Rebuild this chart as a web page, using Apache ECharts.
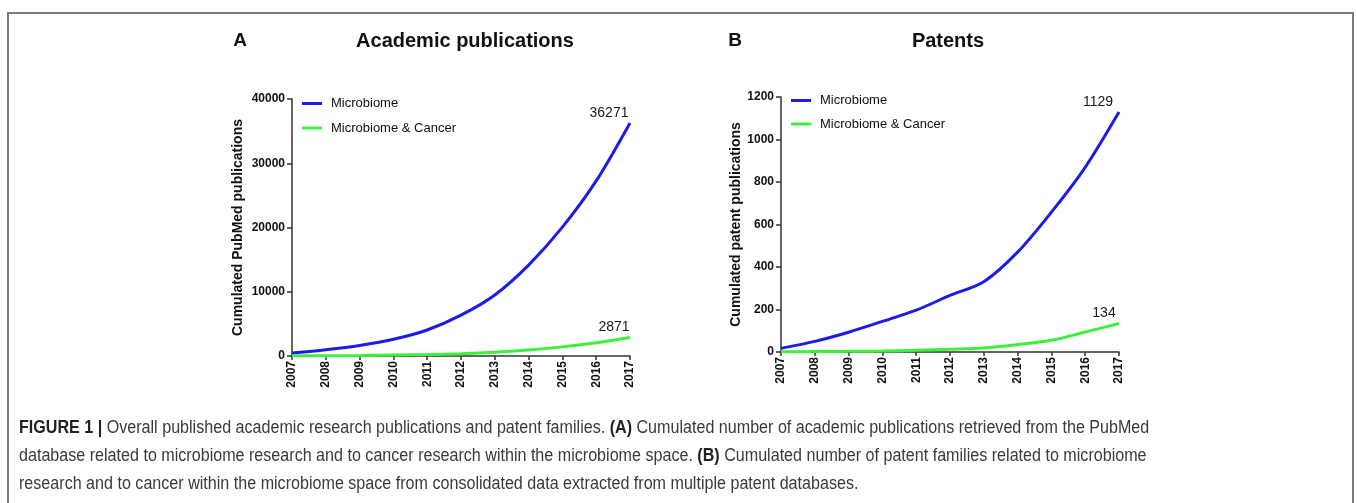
<!DOCTYPE html>
<html>
<head>
<meta charset="utf-8">
<script src="https://cdn.jsdelivr.net/npm/echarts@6/dist/echarts.min.js"></script>
<style>
  body { margin: 0; background: #fff; }
  #wrap { position: relative; width: 1357px; height: 503px; overflow: hidden; }
  #frame {
    position: absolute; left: 7px; top: 12px; width: 1347px; height: 520px;
    border: 2px solid #7a7a7a; box-sizing: border-box;
  }
  #main { position: absolute; left: 0; top: 0; width: 1357px; height: 503px; }
  #caption {
    position: absolute; left: 19px; top: 413px; width: 1450px;
    font-family: "Liberation Sans Narrow", "Arial Narrow", "Liberation Sans", sans-serif;
    font-size: 17.5px; line-height: 28px; color: #3a3a3a;
    transform: scaleX(0.92); transform-origin: left top;
  }
  #caption b { color: #222; }
</style>
</head>
<body>
<div id="wrap">
  <div id="frame"></div>
  <div id="main"></div>
  <div id="caption">
    <b>FIGURE 1 |</b> Overall published academic research publications and patent families. <b>(A)</b> Cumulated number of academic publications retrieved from the PubMed<br>
    database related to microbiome research and to cancer research within the microbiome space. <b>(B)</b> Cumulated number of patent families related to microbiome<br>
    research and to cancer within the microbiome space from consolidated data extracted from multiple patent databases.
  </div>
</div>
<script>
  // 数据
  var years = ['2007', '2008', '2009', '2010', '2011', '2012', '2013', '2014', '2015', '2016', '2017'];
  var pubMicrobiome = [450, 980, 1650, 2600, 4050, 6350, 9500, 14150, 20050, 27250, 36271];
  var pubCancer = [20, 40, 80, 140, 220, 360, 600, 930, 1420, 2050, 2871];
  var patMicrobiome = [17, 50, 93, 144, 197, 266, 331, 470, 658, 869, 1129];
  var patCancer = [1, 2, 3, 5, 8, 13, 19, 35, 55, 94, 134];
  var pubTicks = [0, 10000, 20000, 30000, 40000];
  var patTicks = [0, 200, 400, 600, 800, 1000, 1200];

  var blue = '#1c1ce6';
  var green = '#3ef03e';
  var font = '"Liberation Sans", Arial, sans-serif';

  var chart = echarts.init(document.getElementById('main'));

  function xAxisFor(gi) {
    return {
      type: 'category', gridIndex: gi, data: years, boundaryGap: false,
      axisLine: { lineStyle: { color: '#333', width: 1.5 } },
      axisTick: { show: true, alignWithLabel: true, length: 4, lineStyle: { color: '#333', width: 1.5 } },
      axisLabel: {
        rotate: 90, interval: 0, margin: 5,
        fontFamily: font, fontSize: 12, fontWeight: 'bold', color: '#111'
      }
    };
  }

  function yAxisFor(gi, ticks, name, gap) {
    return {
      type: 'value', gridIndex: gi, min: ticks[0], max: ticks[ticks.length - 1],
      interval: ticks[1] - ticks[0],
      name: name, nameLocation: 'middle', nameGap: gap,
      nameTextStyle: { fontFamily: font, fontSize: 14, fontWeight: 'bold', color: '#111' },
      axisLine: { show: true, lineStyle: { color: '#333', width: 1.5 } },
      axisTick: { show: true, length: 5, lineStyle: { color: '#333', width: 1.5 } },
      splitLine: { show: false },
      axisLabel: {
        margin: 7, fontFamily: font, fontSize: 12, fontWeight: 'bold', color: '#111',
        formatter: function (v) { return String(v); }
      }
    };
  }

  function lineSeries(name, gi, data, color, offset) {
    return {
      name: name, type: 'line', xAxisIndex: gi, yAxisIndex: gi,
      data: data, smooth: 0.3, symbol: 'none',
      lineStyle: { color: color, width: 3 }, itemStyle: { color: color },
      endLabel: {
        show: true, offset: offset, align: 'center', verticalAlign: 'bottom',
        fontFamily: font, fontSize: 14, color: '#1a1a1a',
        formatter: function (p) { return String(p.value); }
      }
    };
  }

  var legendBase = {
    orient: 'vertical', icon: 'rect', itemWidth: 20, itemHeight: 3,
    selectedMode: false,
    textStyle: { fontFamily: font, fontSize: 13, color: '#111', padding: [0, 0, 0, 4] },
    data: ['Microbiome', 'Microbiome & Cancer']
  };

  var option = {
    animation: false,
    grid: [
      { left: 292, top: 99, width: 338, height: 257 },
      { left: 781, top: 97, width: 338, height: 255 }
    ],
    xAxis: [xAxisFor(0), xAxisFor(1)],
    yAxis: [
      yAxisFor(0, pubTicks, 'Cumulated PubMed publications', 47),
      yAxisFor(1, patTicks, 'Cumulated patent publications', 36)
    ],
    legend: [
      Object.assign({}, legendBase, { left: 297, top: 92, itemGap: 11.5 }),
      Object.assign({}, legendBase, { left: 786, top: 89, itemGap: 10.5 })
    ],
    graphic: [
      { type: 'text', x: 240, y: 41, style: { text: 'A', fontFamily: font, fontSize: 19, fontWeight: 'bold', fill: '#111', textAlign: 'center', textVerticalAlign: 'middle' } },
      { type: 'text', x: 465, y: 41, style: { text: 'Academic publications', fontFamily: font, fontSize: 20, fontWeight: 'bold', fill: '#111', textAlign: 'center', textVerticalAlign: 'middle' } },
      { type: 'text', x: 735, y: 41, style: { text: 'B', fontFamily: font, fontSize: 19, fontWeight: 'bold', fill: '#111', textAlign: 'center', textVerticalAlign: 'middle' } },
      { type: 'text', x: 948, y: 41, style: { text: 'Patents', fontFamily: font, fontSize: 20, fontWeight: 'bold', fill: '#111', textAlign: 'center', textVerticalAlign: 'middle' } }
    ],
    series: [
      lineSeries('Microbiome', 0, pubMicrobiome, blue, [-29, -3]),
      lineSeries('Microbiome & Cancer', 0, pubCancer, green, [-24, -3]),
      lineSeries('Microbiome', 1, patMicrobiome, blue, [-29, -3]),
      lineSeries('Microbiome & Cancer', 1, patCancer, green, [-23, -3])
    ]
  };

  chart.setOption(option);
  window.addEventListener('resize', function () { chart.resize(); });
</script>
</body>
</html>
